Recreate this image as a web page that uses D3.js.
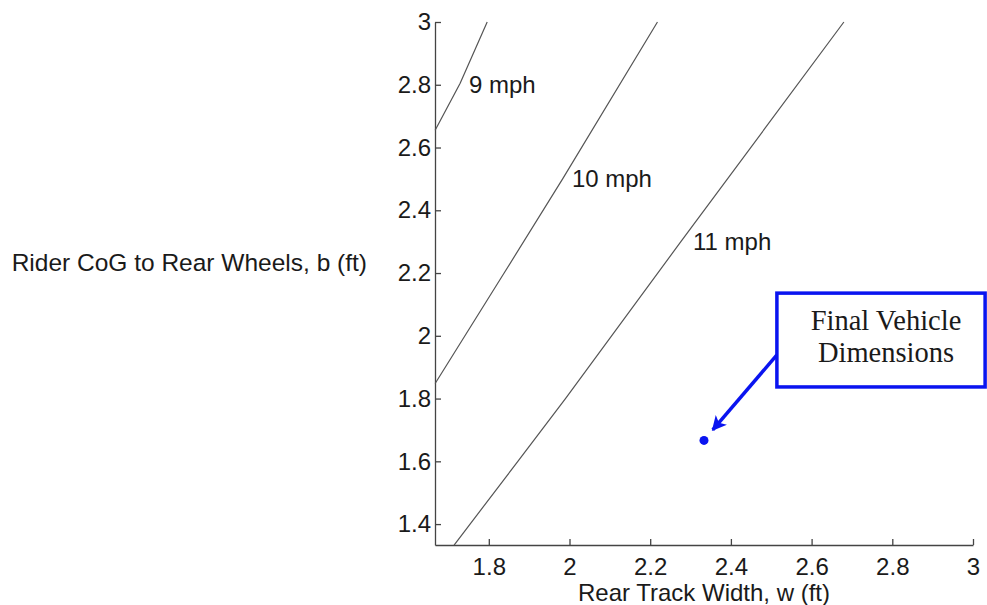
<!DOCTYPE html>
<html>
<head>
<meta charset="utf-8">
<script src="https://cdn.jsdelivr.net/npm/d3@7"></script>
<style>
  html, body { margin: 0; padding: 0; background: #fff; }
  svg { display: block; }
  text { fill: #1a1a1a; }
  .sans { font-family: Arial, "Liberation Sans", sans-serif; }
  .serif { font-family: "Liberation Serif", "Times New Roman", serif; }
</style>
</head>
<body>
<svg id="chart" width="987" height="605"></svg>
<script>
// Tipping-speed contours: rear track width w vs rider CoG to rear wheels b
const xTicks = [1.8, 2, 2.2, 2.4, 2.6, 2.8, 3];
const yTicks = [1.4, 1.6, 1.8, 2, 2.2, 2.4, 2.6, 2.8, 3];

const speeds = ["9 mph", "10 mph", "11 mph"];
const curveW = [
  [1.667, 1.729, 1.796],
  [1.667, 1.838, 1.983, 2.218],
  [1.714, 1.872, 1.990, 2.276, 2.680]
];
const curveB = [
  [2.655, 2.805, 3.0],
  [1.848, 2.200, 2.500, 3.0],
  [1.333, 1.600, 1.800, 2.300, 3.0]
];
// contour label anchors (w, b)
const labelW = [1.751, 2.006, 2.306];
const labelB = [2.774, 2.474, 2.273];

// chosen design point
const finalW = [28 / 12];
const finalB = [20 / 12];
const calloutLines = ["Final Vehicle", "Dimensions"];
// callout box corners and arrow start (w, b)
const boxW = [2.514, 3.03];
const boxB = [2.136, 1.837];
const arrowFrom = [2.514, 1.939];
const arrowTo = [2.355, 1.700];

const svg = d3.select("#chart");
const x = d3.scaleLinear().domain([5 / 3, 3]).range([435, 973]);
const y = d3.scaleLinear().domain([4 / 3, 3]).range([545, 22]);

const axisColor = "#444";

// x axis (ticks point inward)
const gx = svg.append("g").attr("transform", `translate(0,${y.range()[0]})`)
  .call(d3.axisBottom(x).tickValues(xTicks).tickSizeInner(-6).tickSizeOuter(0)
    .tickPadding(13).tickFormat(d3.format("")));
gx.select(".domain").attr("stroke", axisColor).attr("stroke-width", 1.3);
gx.selectAll(".tick line").attr("stroke", axisColor).attr("stroke-width", 1.3);
gx.selectAll(".tick text").attr("class", "sans").style("font-size", "24px").attr("fill", "#1a1a1a");

// y axis
const gy = svg.append("g").attr("transform", `translate(${x.range()[0]},0)`)
  .call(d3.axisLeft(y).tickValues(yTicks).tickSizeInner(-6).tickSizeOuter(0)
    .tickPadding(4).tickFormat(d3.format("")));
gy.select(".domain").attr("stroke", axisColor).attr("stroke-width", 1.3);
gy.selectAll(".tick line").attr("stroke", axisColor).attr("stroke-width", 1.3);
gy.selectAll(".tick text").attr("class", "sans").style("font-size", "24px").attr("fill", "#1a1a1a");

// axis titles
svg.append("text")
  .attr("class", "sans")
  .attr("x", (x.range()[0] + x.range()[1]) / 2)
  .attr("y", 601)
  .attr("text-anchor", "middle")
  .style("font-size", "24px")
  .text("Rear Track Width, w (ft)");

svg.append("text")
  .attr("class", "sans")
  .attr("x", 367)
  .attr("y", 271)
  .attr("text-anchor", "end")
  .style("font-size", "24.5px")
  .text("Rider CoG to Rear Wheels, b (ft)");

// contour lines
const line = d3.line().x(d => x(d[0])).y(d => y(d[1]));
speeds.forEach((s, i) => {
  const pts = curveW[i].map((w, j) => [w, curveB[i][j]]);
  svg.append("path")
    .datum(pts)
    .attr("d", line)
    .attr("fill", "none")
    .attr("stroke", "#555")
    .attr("stroke-width", 1.2);
  svg.append("text")
    .attr("class", "sans")
    .attr("x", x(labelW[i]))
    .attr("y", y(labelB[i]))
    .style("font-size", "24px")
    .text(s);
});

// design point
const blue = "#0a14f0";
svg.selectAll("circle.final")
  .data(finalW.map((w, i) => [w, finalB[i]]))
  .enter().append("circle")
  .attr("class", "final")
  .attr("cx", d => x(d[0]))
  .attr("cy", d => y(d[1]))
  .attr("r", 4.5)
  .attr("fill", blue);

// callout arrow
svg.append("defs").append("marker")
  .attr("id", "head")
  .attr("viewBox", "0 0 10 10")
  .attr("refX", 9).attr("refY", 5)
  .attr("markerWidth", 4.2).attr("markerHeight", 4.2)
  .attr("markerUnits", "strokeWidth")
  .attr("orient", "auto")
  .append("path")
  .attr("d", "M0,0 L10,5 L0,10 L2.5,5 Z")
  .attr("fill", blue);

svg.append("line")
  .attr("x1", x(arrowFrom[0])).attr("y1", y(arrowFrom[1]))
  .attr("x2", x(arrowTo[0])).attr("y2", y(arrowTo[1]))
  .attr("stroke", blue)
  .attr("stroke-width", 3.5)
  .attr("marker-end", "url(#head)");

// callout box
svg.append("rect")
  .attr("x", x(boxW[0]))
  .attr("y", y(boxB[0]))
  .attr("width", x(boxW[1]) - x(boxW[0]))
  .attr("height", y(boxB[1]) - y(boxB[0]))
  .attr("fill", "#fff")
  .attr("stroke", blue)
  .attr("stroke-width", 3.5);

const cx = (x(boxW[0]) + x(boxW[1])) / 2 + 5;
calloutLines.forEach((t, i) => {
  svg.append("text")
    .attr("class", "serif")
    .attr("x", cx)
    .attr("y", y(boxB[0]) + 37 + i * 32)
    .attr("text-anchor", "middle")
    .style("font-size", "28.5px")
    .text(t);
});
</script>
</body>
</html>
